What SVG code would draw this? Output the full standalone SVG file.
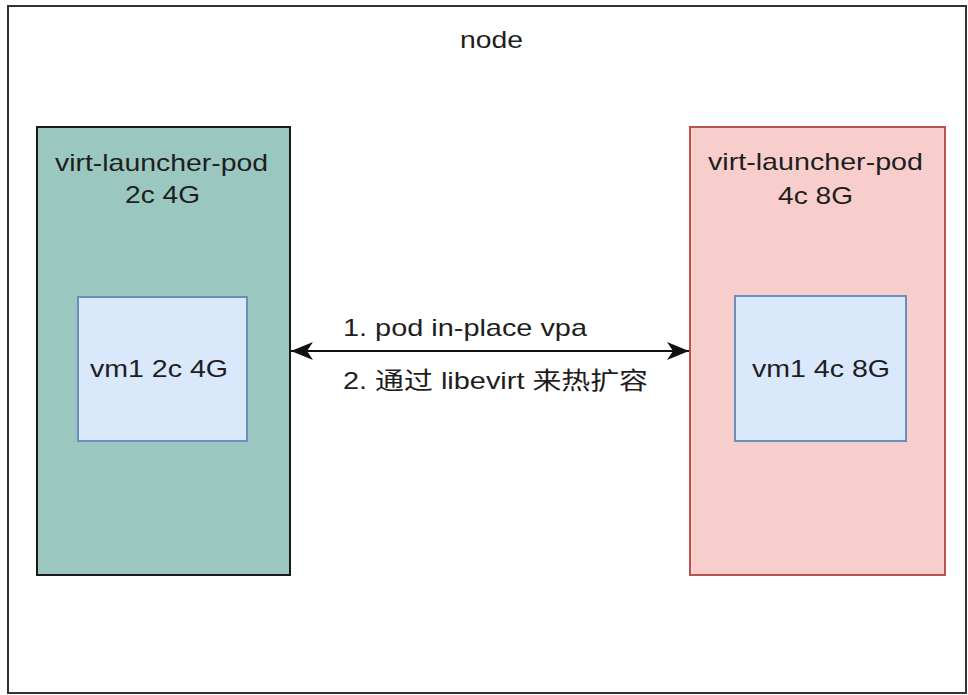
<svg xmlns="http://www.w3.org/2000/svg" width="968" height="695" viewBox="0 0 968 695">
  <style>
    text { font-family: "Liberation Sans", Arial, "Noto Sans CJK SC", sans-serif; font-size: 24px; fill: #1e1e1e; }
    .frame { fill: #ffffff; stroke: #333333; stroke-width: 2; }
    .podL { fill: #9AC7BF; stroke: #1a1a1a; stroke-width: 2; }
    .podR { fill: #F8CECC; stroke: #B85450; stroke-width: 2; }
    .vm { fill: #DAE8FC; stroke: #6C8EBF; stroke-width: 2; }
    .conn { stroke: #111111; stroke-width: 2; fill: none; }
  </style>
  <defs>
    <marker id="arrow" markerUnits="userSpaceOnUse" markerWidth="24" markerHeight="22" refX="22" refY="11" orient="auto-start-reverse" viewBox="0 0 24 22">
      <path d="M0,2 L22,11 L0,20 L6,11 Z" fill="#111111"/>
    </marker>
  </defs>
  <rect width="968" height="695" fill="#ffffff"/>
  <g id="node">
    <rect class="frame" x="8" y="6" width="958" height="687"/>
    <text x="460" y="48" textLength="63" lengthAdjust="spacingAndGlyphs">node</text>
  </g>
  <g id="pod-left">
    <rect class="podL" x="37" y="127" width="253" height="448"/>
    <text x="55" y="171" textLength="213" lengthAdjust="spacingAndGlyphs">virt-launcher-pod</text>
    <text x="125" y="203" textLength="75" lengthAdjust="spacingAndGlyphs">2c 4G</text>
  </g>
  <g id="vm-left">
    <rect class="vm" x="78" y="297" width="169" height="144"/>
    <text x="90" y="377" textLength="138" lengthAdjust="spacingAndGlyphs">vm1 2c 4G</text>
  </g>
  <g id="pod-right">
    <rect class="podR" x="690" y="127" width="255" height="448"/>
    <text x="708" y="170" textLength="215" lengthAdjust="spacingAndGlyphs">virt-launcher-pod</text>
    <text x="778" y="204" textLength="75" lengthAdjust="spacingAndGlyphs">4c 8G</text>
  </g>
  <g id="vm-right">
    <rect class="vm" x="735" y="296" width="171" height="145"/>
    <text x="752" y="377" textLength="138" lengthAdjust="spacingAndGlyphs">vm1 4c 8G</text>
  </g>
  <g id="connectors">
    <line class="conn" x1="291" y1="351" x2="689" y2="351" marker-start="url(#arrow)" marker-end="url(#arrow)"/>
    <text x="343" y="336" textLength="244" lengthAdjust="spacingAndGlyphs">1. pod in-place vpa</text>
    <text x="343" y="389" textLength="305" lengthAdjust="spacingAndGlyphs">2. 通过 libevirt 来热扩容</text>
  </g>
</svg>
